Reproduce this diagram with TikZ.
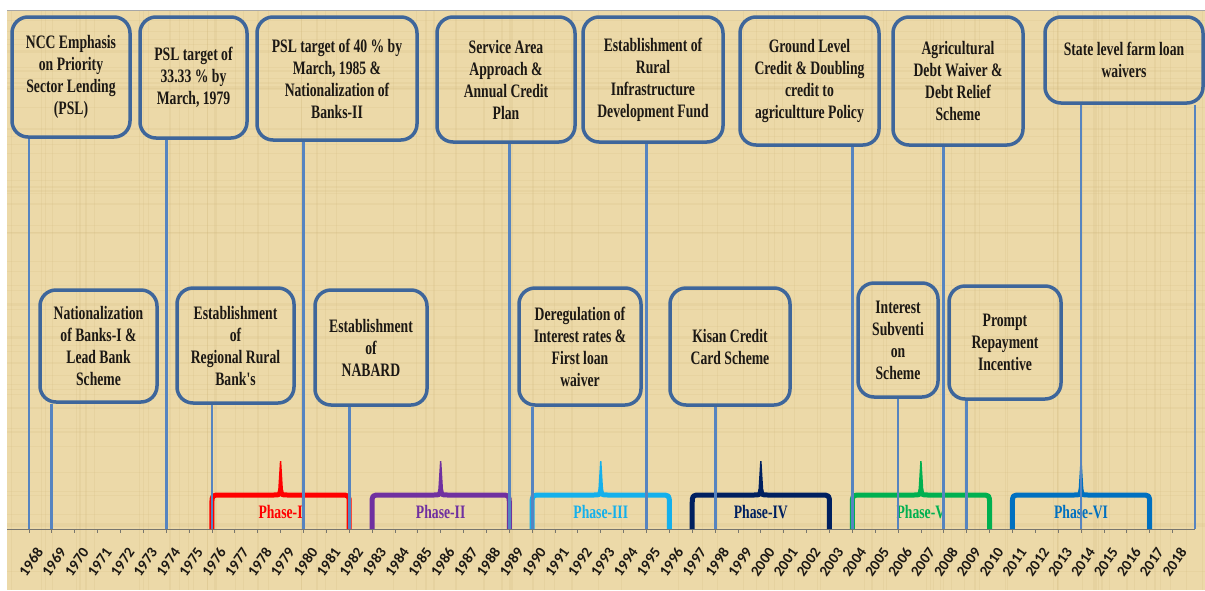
\documentclass[tikz,border=0pt]{standalone}
\usepackage{fontspec}
\newfontfamily\boxfont{Liberation Serif}[FakeStretch=0.72]
\newfontfamily\yearfont{Carlito}
\usetikzlibrary{calc}
\definecolor{paper}{RGB}{236,217,168}
\definecolor{fiber}{RGB}{205,180,120}
\definecolor{boxblue}{RGB}{62,102,155}
\definecolor{lineblue}{RGB}{86,132,192}
\definecolor{axisgray}{RGB}{120,118,110}
\definecolor{txt}{RGB}{28,24,20}
\definecolor{ph1}{RGB}{255,0,0}
\definecolor{ph2}{RGB}{112,48,160}
\definecolor{ph3}{RGB}{20,176,236}
\definecolor{ph4}{RGB}{0,32,96}
\definecolor{ph5}{RGB}{0,176,80}
\definecolor{ph6}{RGB}{0,112,192}
\tikzset{
  evbox/.style={draw=boxblue, line width=3.5pt, rounded corners=16pt, inner sep=0pt,
    align=center, text=txt, font=\boxfont\bfseries\fontsize{19}{22}\selectfont},
  conn/.style={draw=lineblue, line width=2.8pt},
  axisline/.style={draw=axisgray, line width=0.8pt},
  yearlab/.style={font=\yearfont\bfseries\fontsize{15}{15}\selectfont, text=txt, rotate=55, inner sep=0pt},
  brace/.style={line width=5pt, line join=round, line cap=butt},
  phaselab/.style={font=\boxfont\bfseries\fontsize{19}{22}\selectfont, inner sep=0pt}
}
\newcommand\phbrace[5]{%
  \pgfmathsetmacro\phL{29+22.87*(#1-1968)}%
  \pgfmathsetmacro\phR{29+22.87*(#2-1968)}%
  \pgfmathsetmacro\phM{(\phL+\phR)/2}%
  \draw[brace,draw=#3] (\phL,529) -- (\phL,504) .. controls (\phL,495) .. (\phL+9,495)
     -- (\phM-7,495) .. controls (\phM-1,495) .. (\phM,490)
     .. controls (\phM+1,495) .. (\phM+7,495) -- (\phR-9,495)
     .. controls (\phR,495) .. (\phR,504) -- (\phR,529);
  \fill[#3] (\phM-2.6,493) -- (\phM-0.7,461) -- (\phM+0.7,461) -- (\phM+2.6,493) -- cycle;
  \node[phaselab,text=#3] (#4) at (\phM,512) {#5};
}
\begin{document}
\begin{tikzpicture}[x=1pt,y=-1pt]
\useasboundingbox (0,0) rectangle (1205,590);
\fill[white] (0,0) rectangle (1205,590);
\fill[paper] (7,10) rectangle (1205,590);
% faint papyrus fibres
\pgfmathsetseed{7}
\begin{scope}
\clip (7,10) rectangle (1205,590);
\foreach \i in {1,...,90}{
  \pgfmathsetmacro\fx{7+1198*rnd}
  \draw[fiber, opacity=0.18, line width=1.2pt] (\fx,10) -- (\fx,590);
}
\foreach \i in {1,...,60}{
  \pgfmathsetmacro\fy{10+580*rnd}
  \draw[fiber, opacity=0.15, line width=1.2pt] (7,\fy) -- (1205,\fy);
}
\end{scope}
\draw[gray!70,line width=0.8pt] (7,10.4) -- (1205,10.4);

% axis
\coordinate (axL) at (7,529);
\coordinate (axR) at (1195,529);
\draw[axisline] (axL) -- (axR);
\foreach \yr in {1968,...,2018}{
  \pgfmathsetmacro\xx{29+22.87*(\yr-1968)}
  \coordinate (yr\yr) at (\xx,529);
  \draw[axisline] (yr\yr) -- ++(0,4);
  \node[yearlab] (lab\yr) at (\xx+2,562) {\yr};
}
\coordinate (slfR) at (1195,529);

% phase braces
\phbrace{1976}{1982}{ph1}{p1}{Phase-I}
\phbrace{1983}{1989}{ph2}{p2}{Phase-II}
\phbrace{1990}{1996}{ph3}{p3}{Phase-III}
\phbrace{1997}{2003}{ph4}{p4}{Phase-IV}
\phbrace{2004}{2010}{ph5}{p5}{Phase-V}
\phbrace{2011}{2017}{ph6}{p6}{Phase-VI}

% top boxes
\node[evbox, minimum width=118pt, minimum height=120pt] (ncc) at (71,77) {NCC Emphasis\\on Priority\\Sector Lending\\(PSL)};
\node[evbox, minimum width=107pt, minimum height=121pt] (psla) at (193.5,77.5) {PSL target of\\33.33 \% by\\March, 1979};
\node[evbox, minimum width=160pt, minimum height=123pt] (pslb) at (337,78.5) {PSL target of 40 \% by\\March, 1985 \&\\Nationalization of\\Banks-II};
\node[evbox, minimum width=138pt, minimum height=125pt] (saa) at (506,79.5) {Service Area\\Approach \&\\Annual Credit\\Plan};
\node[evbox, minimum width=140pt, minimum height=125pt] (ridf) at (653,79.5) {Establishment of\\Rural\\Infrastructure\\Development Fund};
\node[evbox, minimum width=139pt, minimum height=128pt] (glc) at (809.5,81) {Ground Level\\Credit \& Doubling\\credit to\\agricultture Policy};
\node[evbox, minimum width=130pt, minimum height=128pt] (adw) at (958,81) {Agricultural\\Debt Waiver \&\\Debt Relief\\Scheme};
\node[evbox, minimum width=158pt, minimum height=86pt] (slf) at (1124,60) {State level farm loan\\waivers};

% bottom boxes
\node[evbox, minimum width=117pt, minimum height=112pt] (nat) at (98.5,346) {Nationalization\\of Banks-I \&\\Lead Bank\\Scheme};
\node[evbox, minimum width=117pt, minimum height=115pt] (rrb) at (235.5,345.5) {Establishment\\of\\Regional Rural\\Bank's};
\node[evbox, minimum width=112pt, minimum height=115pt] (nab) at (371,347.5) {Establishment\\of\\NABARD};
\node[evbox, minimum width=122pt, minimum height=117pt] (der) at (580,346.5) {Deregulation of\\Interest rates \&\\First loan\\waiver};
\node[evbox, minimum width=120pt, minimum height=117pt] (kcc) at (730,346.5) {Kisan Credit\\Card Scheme};
\node[evbox, minimum width=80pt, minimum height=114pt] (isub) at (898,340) {Interest\\Subventi\\on\\Scheme};
\node[evbox, minimum width=112pt, minimum height=113pt] (pri) at (1005,342.5) {Prompt\\Repayment\\Incentive};

% connectors
\draw[conn] (ncc.south -| yr1968) -- (yr1968);
\draw[conn] (psla.south -| yr1974) -- (yr1974);
\draw[conn] (pslb.south -| yr1980) -- (yr1980);
\draw[conn] (saa.south -| yr1989) -- (yr1989);
\draw[conn] (ridf.south -| yr1995) -- (yr1995);
\draw[conn] (glc.south -| yr2004) -- (yr2004);
\draw[conn] (adw.south -| yr2008) -- (yr2008);
\draw[conn] (slf.south -| yr2014) -- (yr2014);
\draw[conn] (slf.south -| slfR) -- (slfR);
\draw[conn] (nat.south -| yr1969) -- (yr1969);
\draw[conn] (rrb.south -| yr1976) -- (yr1976);
\draw[conn] (nab.south -| yr1982) -- (yr1982);
\draw[conn] (der.south -| yr1990) -- (yr1990);
\draw[conn] (kcc.south -| yr1998) -- (yr1998);
\draw[conn] (isub.south -| yr2006) -- (yr2006);
\draw[conn] (pri.south -| yr2009) -- (yr2009);
\end{tikzpicture}
\end{document}
